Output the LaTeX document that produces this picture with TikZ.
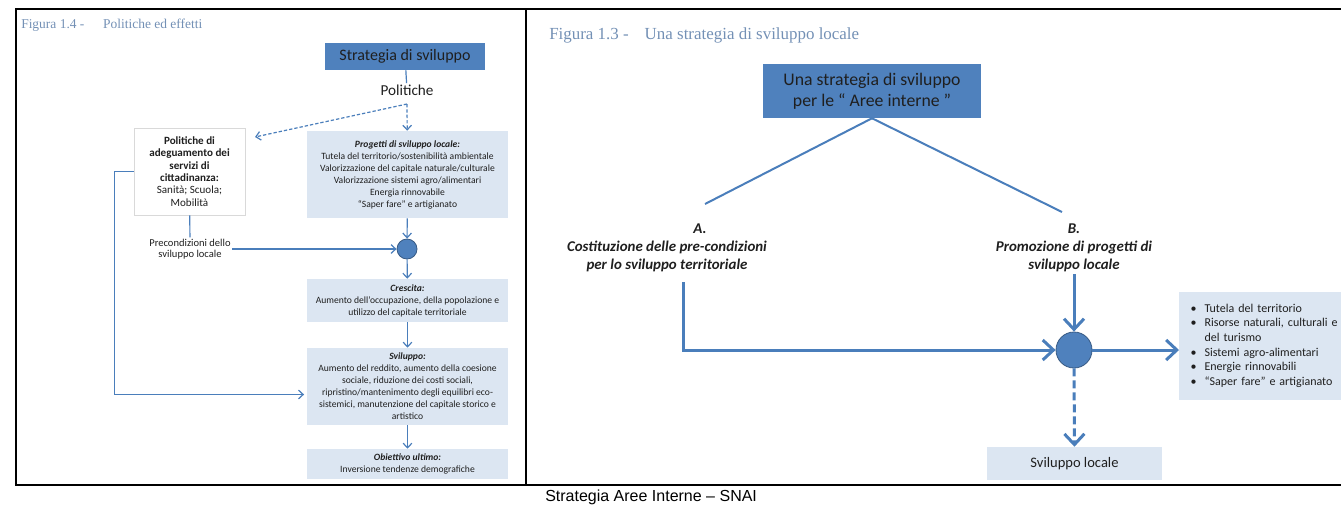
\documentclass[tikz,border=0pt]{standalone}
\usepackage{fontspec}
\setmainfont{Carlito}
\newfontfamily\ttlfont{Liberation Serif}
\newfontfamily\capfont{Liberation Sans}
\usepackage{xcolor}
\definecolor{boxblue}{HTML}{4F81BD}
\definecolor{boxpale}{HTML}{DCE6F2}
\definecolor{linkblue}{HTML}{4A7EBB}
\definecolor{ttlblue}{HTML}{7390B5}
\definecolor{ink}{HTML}{1F1F1F}
\definecolor{edge}{HTML}{D9D9D9}
\usepackage{tikz}
\usetikzlibrary{arrows.meta, positioning, calc}
\tikzset{
  blu/.style={rectangle, fill=boxblue, text=ink, align=center, inner sep=0pt},
  pale/.style={rectangle, fill=boxpale, text=ink, align=center, inner sep=0pt,
               minimum width=150.75pt, font=\fontsize{7.2pt}{9pt}\selectfont},
  arr/.style={-{Straight Barb[length=3.5pt,width=6.5pt]}, line width=0.9pt, draw=linkblue},
  bigarr/.style={-{Straight Barb[length=8pt,width=15pt]}, line width=2.25pt, draw=linkblue},
  lnk/.style={line width=0.9pt, draw=linkblue},
  dot/.style={circle, fill=boxblue, draw=boxblue!70!black, line width=0.6pt, inner sep=0pt},
  frm/.style={line width=1.5pt, draw=black},
  ttl/.style={text=ttlblue, anchor=west, inner sep=0pt},
  abtxt/.style={text=ink, align=center, inner sep=0pt,
                font=\bfseries\itshape\fontsize{11.2pt}{13.5pt}\selectfont}
}

\begin{document}
\begin{tikzpicture}[x=0.75pt, y=-0.75pt]
  \clip (0,0) rectangle (1341,508);

  %% frame and caption
  \draw[frm] (1341,9) -- (16,9) -- (16,485) -- (1341,485);
  \draw[frm] (526,9) -- (526,485);
  \node[font=\capfont\fontsize{12pt}{14pt}\selectfont, anchor=west, inner sep=0pt]
    (capt) at (545,497) {Strategia Aree Interne – SNAI};

  %% Figura 1.4
  \node[ttl, font=\ttlfont\fontsize{10.1pt}{12pt}\selectfont] (ttlL) at (21,25)
    {Figura 1.4 -\hspace{14pt}Politiche ed effetti};
  \node[blu, minimum width=120pt, minimum height=20.25pt,
        font=\fontsize{12pt}{14pt}\selectfont] (strat) at (405,56.5) {Strategia di sviluppo};
  \node[text=ink, inner sep=1pt, font=\fontsize{11.4pt}{13pt}\selectfont] (polit) at (407,90) {Politiche};
  \coordinate (split) at (407,104);
  \coordinate (padegIn) at (255,137);
  \node[draw=edge, fill=white, align=center, text=ink, inner sep=0pt,
        minimum width=83.25pt, minimum height=65.25pt,
        font=\fontsize{8.3pt}{9.2pt}\selectfont] (padeg) at (189.5,171.5)
    {\textbf{Politiche di}\\\textbf{adeguamento dei}\\\textbf{servizi di}\\
     \textbf{cittadinanza:}\\Sanità; Scuola;\\Mobilità};
  \node[pale, minimum height=65.25pt] (proge) at (407.5,174.5)
    {\textbf{\textit{Progetti di sviluppo locale:}}\\
     Tutela del territorio/sostenibilità ambientale\\
     Valorizzazione del capitale naturale/culturale\\
     Valorizzazione sistemi agro/alimentari\\
     Energia rinnovabile\\
     “Saper fare” e artigianato};
  \node[text=ink, align=center, inner sep=1pt, font=\fontsize{7.9pt}{8.4pt}\selectfont]
    (precon) at (190,249) {Precondizioni dello\\sviluppo locale};
  \node[dot, minimum size=15pt] (dotL) at (407,249) {};
  \node[pale, minimum height=32.25pt] (cresc) at (407.5,300.5)
    {\textbf{\textit{Crescita:}}\\
     Aumento dell’occupazione, della popolazione e\\
     utilizzo del capitale territoriale};
  \node[pale, minimum height=57.75pt] (svil) at (407.5,386.5)
    {\textbf{\textit{Sviluppo:}}\\
     Aumento del reddito, aumento della coesione\\
     sociale, riduzione dei costi sociali,\\
     ripristino/mantenimento degli equilibri eco-\\
     sistemici, manutenzione del capitale storico e\\
     artistico};
  \node[pale, minimum height=22.5pt] (obiet) at (407.5,464)
    {\textbf{\textit{Obiettivo ultimo:}}\\
     Inversione tendenze demografiche};

  \draw[lnk] (strat) -- (polit);
  \draw[arr, dash pattern=on 2.5pt off 1.5pt] (split) -- (padegIn);
  \draw[arr, dash pattern=on 2.5pt off 1.5pt] (split) -- (proge);
  \draw[lnk] (padeg) -- (precon);
  \draw[arr] (precon) -- (dotL);
  \draw[arr] (proge) -- (dotL);
  \draw[arr] (dotL) -- (cresc);
  \draw[arr] (cresc) -- (svil);
  \draw[arr] (svil) -- (obiet);
  \draw[arr, shorten >=2pt] (padeg.west) -- ++(-19,0) |- ([yshift=-6pt]svil.west);

  %% Figura 1.3
  \node[ttl, font=\ttlfont\fontsize{12.7pt}{14pt}\selectfont] (ttlR) at (549,35)
    {Figura 1.3 -\hspace{12pt}Una strategia di sviluppo locale};
  \node[blu, minimum width=163.5pt, minimum height=40.5pt,
        font=\fontsize{13.3pt}{15.75pt}\selectfont] (ustrat) at (872,91)
    {Una strategia di sviluppo\\per le “ Aree interne ”};
  \node[abtxt] (Alab) at (700,229) {A.};
  \node[abtxt] (Atxt) at (667,256) {Costituzione delle pre-condizioni\\per lo sviluppo territoriale};
  \node[abtxt] (Blab) at (1074,229) {B.};
  \node[abtxt] (Btxt) at (1074,256) {Promozione di progetti di\\sviluppo locale};
  \coordinate (aEnd) at (705,204);
  \coordinate (bEnd) at (1062,212);
  \coordinate (aStart) at (683,282);
  \node[dot, minimum size=27pt] (dotR) at (1074,350) {};
  \node[fill=boxpale, text=ink, anchor=west, text width=120pt, inner xsep=8.5pt, inner ysep=0pt,
        minimum height=81pt, font=\fontsize{9pt}{11pt}\selectfont] (bull) at (1179,346)
    {\begin{tabular}{@{}l@{\hspace{6pt}}l@{}}
       • & Tutela del territorio\\
       • & Risorse naturali, culturali e\\
         & del turismo\\
       • & Sistemi agro-alimentari\\
       • & Energie rinnovabili\\
       • & “Saper fare” e artigianato
     \end{tabular}};
  \node[fill=boxpale, text=ink, minimum width=131.25pt, minimum height=24.75pt,
        font=\fontsize{10.9pt}{12pt}\selectfont] (sloc) at (1074.5,463.5) {Sviluppo locale};

  \draw[linkblue, line width=1.5pt] (ustrat.south) -- (aEnd);
  \draw[linkblue, line width=1.5pt] (ustrat.south) -- (bEnd);
  \draw[bigarr] (aStart) |- (dotR);
  \draw[bigarr, shorten <=2pt] (Btxt) -- (dotR);
  \draw[bigarr] (dotR) -- (dotR -| bull.west);
  \draw[bigarr, dash pattern=on 6pt off 3pt] (dotR) -- (sloc);

\end{tikzpicture}
\end{document}
